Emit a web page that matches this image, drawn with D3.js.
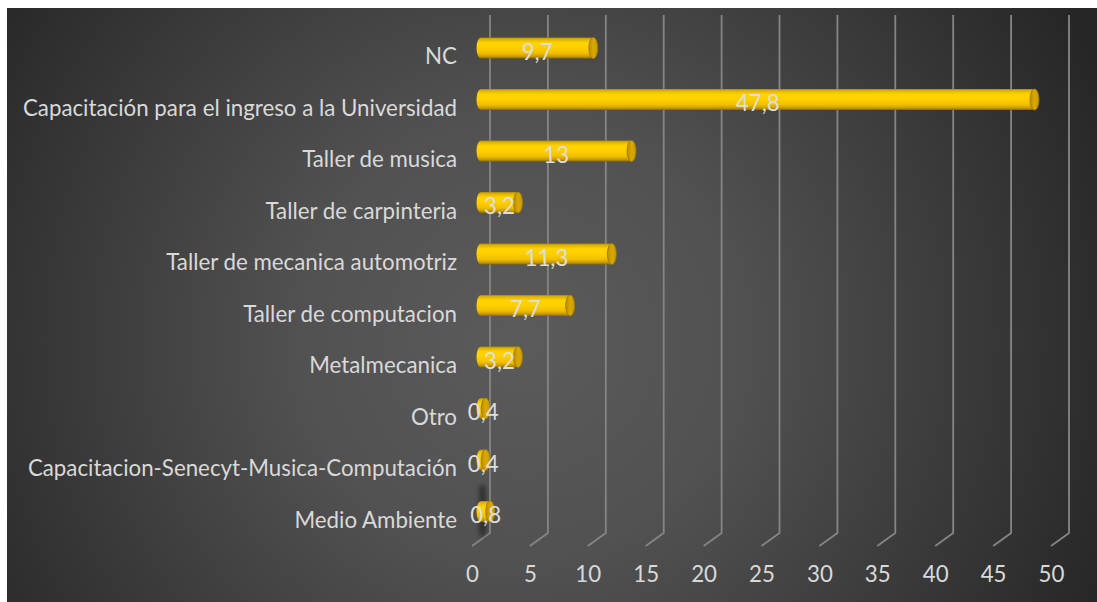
<!DOCTYPE html>
<html>
<head>
<meta charset="utf-8">
<script src="https://cdn.jsdelivr.net/npm/d3@7"></script>
<style>
  html, body { margin: 0; padding: 0; background: #ffffff; }
  svg { display: block; }
  text { font-family: Lato, "Open Sans", sans-serif; }
</style>
</head>
<body>
<svg id="chart" width="1097" height="602"></svg>
<script>
// Survey answers: which course / workshop respondents would like (percent)
const categories = [
  "NC",
  "Capacitación para el ingreso a la Universidad",
  "Taller de musica",
  "Taller de carpinteria",
  "Taller de mecanica automotriz",
  "Taller de computacion",
  "Metalmecanica",
  "Otro",
  "Capacitacion-Senecyt-Musica-Computación",
  "Medio Ambiente"
];
const values = [9.7, 47.8, 13, 3.2, 11.3, 7.7, 3.2, 0.4, 0.4, 0.8];
const valueLabels = ["9,7", "47,8", "13", "3,2", "11,3", "7,7", "3,2", "0,4", "0,4", "0,8"];
const xTicks = [0, 5, 10, 15, 20, 25, 30, 35, 40, 45, 50];

const svg = d3.select("#chart");
const W = 1097, H = 602;
const fontSize = 22.3;

// 3D depth offset between back wall and front edge of the floor
const depthDx = -18, depthDy = 13;

// Back wall scale; bars sit halfway through the depth
const xBack = d3.scaleLinear().domain([0, 50]).range([490, 1069]);
const xBar = v => xBack(v) + depthDx / 2;
const y = d3.scaleBand().domain(categories).range([22.25, 537.25]).padding(0);
const yc = c => y(c) + y.bandwidth() / 2;

const defs = svg.append("defs");

// Chart area background: dark radial gradient
const bg = defs.append("radialGradient")
  .attr("id", "bgGrad")
  .attr("gradientUnits", "userSpaceOnUse")
  .attr("cx", 520).attr("cy", 340).attr("r", 640);
bg.append("stop").attr("offset", 0).attr("stop-color", "#5b5b5b");
bg.append("stop").attr("offset", 0.35).attr("stop-color", "#515151");
bg.append("stop").attr("offset", 1).attr("stop-color", "#262626");

// Gold cylinder body
const body = defs.append("linearGradient")
  .attr("id", "barGrad").attr("x1", 0).attr("y1", 0).attr("x2", 0).attr("y2", 1);
[[0, "#a88500"], [0.07, "#dcb000"], [0.25, "#ffd400"], [0.5, "#ffcf00"],
 [0.75, "#f0bf00"], [0.9, "#c99a00"], [1, "#8a6a00"]]
  .forEach(([o, c]) => body.append("stop").attr("offset", o).attr("stop-color", c));

// Gold cylinder end cap
const cap = defs.append("linearGradient")
  .attr("id", "capGrad").attr("x1", 0).attr("y1", 0).attr("x2", 1).attr("y2", 0);
[[0, "#b88c00"], [0.5, "#d9a800"], [1, "#c79a00"]]
  .forEach(([o, c]) => cap.append("stop").attr("offset", o).attr("stop-color", c));

const blur = defs.append("filter").attr("id", "shadowBlur")
  .attr("x", "-200%").attr("y", "-50%").attr("width", "500%").attr("height", "200%");
blur.append("feGaussianBlur").attr("stdDeviation", 2.5);

svg.append("rect")
  .attr("x", 7).attr("y", 8).attr("width", W - 7).attr("height", H - 8)
  .attr("fill", "url(#bgGrad)");

// Vertical gridlines on the back wall, folding forward along the floor
const gridTop = 15, gridBottom = 533;
const grid = svg.append("g").attr("class", "grid");
grid.selectAll("path").data(xTicks).join("path")
  .attr("d", t => `M${xBack(t)},${gridTop}L${xBack(t)},${gridBottom}L${xBack(t) + depthDx},${gridBottom + depthDy}`)
  .attr("fill", "none")
  .attr("stroke", "#858585")
  .attr("stroke-width", 1.8);

// Value axis labels along the front edge
const xAxis = d3.axisBottom(d3.scaleLinear().domain([0, 50]).range([xBack(0) + depthDx, xBack(50) + depthDx]))
  .tickValues(xTicks).tickSize(0).tickPadding(0).tickFormat(d3.format("d"));
const axisG = svg.append("g").attr("transform", "translate(0,566)").call(xAxis);
axisG.select(".domain").remove();
axisG.selectAll("text")
  .attr("font-size", fontSize).attr("fill", "#d9d9d9")
  .attr("font-family", "Lato, 'Open Sans', sans-serif");

// Category labels
svg.append("g").selectAll("text").data(categories).join("text")
  .attr("x", 457)
  .attr("y", c => yc(c) + 16)
  .attr("text-anchor", "end")
  .attr("font-size", fontSize)
  .attr("fill", "#d9d9d9")
  .text(c => c);

const rows = categories.map((c, i) => ({ c, v: values[i], label: valueLabels[i] }));
const rx = 4.5, ry = 10.5;

// Soft shadow behind the smallest bottom bar
svg.append("rect")
  .attr("x", xBar(0) - 1).attr("y", yc("Medio Ambiente") - 26)
  .attr("width", 5).attr("height", 50)
  .attr("fill", "#000").attr("opacity", 0.55)
  .attr("filter", "url(#shadowBlur)");

const bars = svg.append("g").selectAll("g").data(rows).join("g");

bars.append("path")
  .attr("d", d => {
    const x0 = xBar(0), x1 = xBar(d.v), cy = yc(d.c);
    return `M${x0},${cy - ry}L${x1},${cy - ry}L${x1},${cy + ry}L${x0},${cy + ry}` +
      `A${rx},${ry} 0 0 1 ${x0},${cy - ry}Z`;
  })
  .attr("fill", "url(#barGrad)");

bars.append("ellipse")
  .attr("cx", d => xBar(d.v))
  .attr("cy", d => yc(d.c))
  .attr("rx", rx).attr("ry", ry)
  .attr("fill", "url(#capGrad)")
  .attr("stroke", "#9a7600").attr("stroke-width", 0.8);

// Value labels centred on each bar
bars.append("text")
  .attr("x", d => (xBar(0) + xBar(d.v)) / 2)
  .attr("y", d => yc(d.c) + 11.5)
  .attr("text-anchor", "middle")
  .attr("font-size", fontSize)
  .attr("fill", "#dedede")
  .text(d => d.label);
</script>
</body>
</html>
